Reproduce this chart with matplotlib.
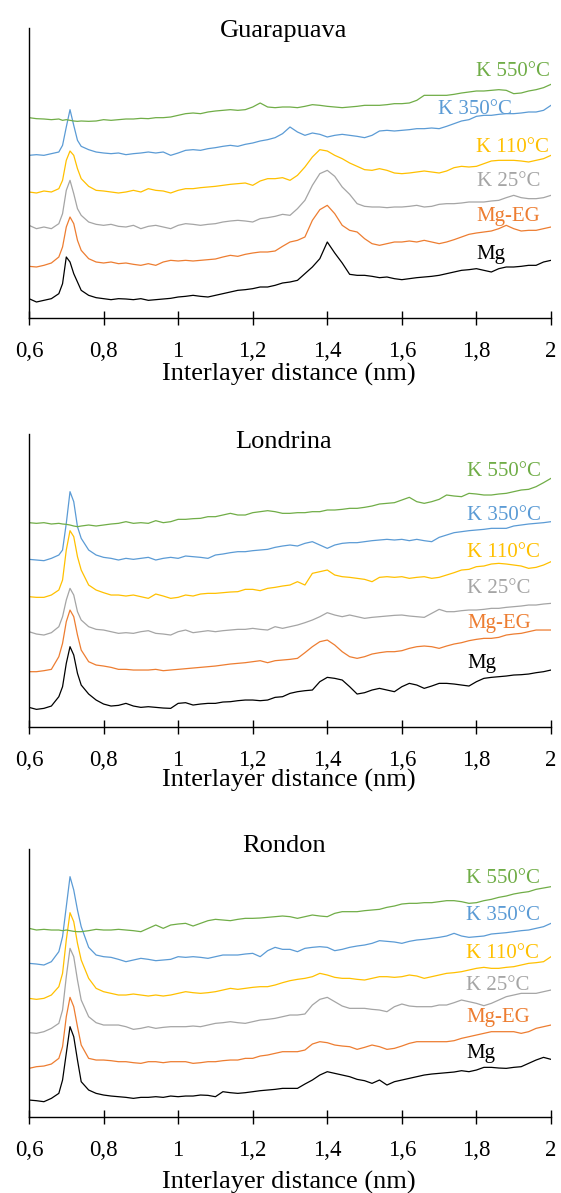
import matplotlib
matplotlib.use("Agg")
import matplotlib.pyplot as plt
from matplotlib.ticker import FixedLocator, FixedFormatter

plt.rcParams['font.family'] = ['Liberation Serif', 'DejaVu Serif']

# ---------------- data ----------------
d_nm = [0.60, 0.62, 0.64, 0.66, 0.68, 0.69, 0.70, 0.71, 0.72, 0.73, 0.74,
        0.76, 0.78, 0.80, 0.82, 0.84, 0.86, 0.88, 0.90, 0.92, 0.94, 0.96, 0.98,
        1.00, 1.02, 1.04, 1.06, 1.08, 1.10, 1.12, 1.14, 1.16, 1.18,
        1.20, 1.22, 1.24, 1.26, 1.28, 1.30, 1.32, 1.34, 1.36, 1.38,
        1.40, 1.42, 1.44, 1.46, 1.48, 1.50, 1.52, 1.54, 1.56, 1.58,
        1.60, 1.62, 1.64, 1.66, 1.68, 1.70, 1.72, 1.74, 1.76, 1.78,
        1.80, 1.82, 1.84, 1.86, 1.88, 1.90, 1.92, 1.94, 1.96, 1.98, 2.00]

series_names = ["Mg", "Mg-EG", "K 25°C", "K 110°C", "K 350°C", "K 550°C"]
panel_titles = ["Guarapuava", "Londrina", "Rondon"]
tick_values = [0.6, 0.8, 1.0, 1.2, 1.4, 1.6, 1.8, 2.0]
tick_labels = ["0,6", "0,8", "1", "1,2", "1,4", "1,6", "1,8", "2"]
x_label = "Interlayer distance (nm)"

# Guarapuava
guara_k550 = [601, 598, 597, 595, 597, 593, 595, 593, 591, 590, 591,
              590, 591, 595, 593, 595, 597, 597, 599, 598, 601, 601, 603,
              608, 613, 615, 613, 618, 621, 623, 625, 623, 625,
              633, 645, 633, 631, 633, 633, 631, 635, 640, 638,
              635, 633, 631, 633, 635, 638, 638, 638, 640, 643,
              643, 645, 653, 668, 668, 668, 668, 671, 675, 678,
              681, 681, 683, 685, 683, 673, 675, 681, 685, 691, 701]
guara_k350 = [488, 490, 488, 493, 498, 518, 573, 625, 578, 533, 515,
              505, 498, 495, 493, 495, 490, 493, 495, 498, 495, 498, 488,
              495, 503, 505, 503, 508, 511, 515, 518, 515, 521,
              525, 531, 535, 541, 553, 573, 558, 548, 555, 551,
              543, 548, 551, 548, 545, 541, 548, 561, 563, 561,
              563, 565, 568, 568, 570, 568, 575, 583, 591, 595,
              605, 608, 608, 611, 613, 613, 615, 618, 618, 623, 638]
guara_k110 = [378, 375, 381, 378, 388, 413, 473, 501, 488, 448, 418,
              395, 383, 381, 378, 375, 378, 383, 378, 388, 383, 381, 375,
              383, 388, 388, 391, 393, 395, 398, 401, 403, 405,
              398, 411, 418, 418, 421, 413, 428, 453, 483, 505,
              501, 488, 478, 465, 455, 445, 443, 448, 443, 435,
              433, 435, 438, 441, 438, 435, 441, 451, 455, 453,
              455, 463, 471, 473, 473, 473, 471, 468, 473, 478, 488]
guara_k25 = [278, 268, 273, 268, 283, 313, 383, 413, 373, 328, 308,
             288, 281, 278, 281, 275, 273, 278, 268, 275, 278, 273, 268,
             278, 283, 281, 278, 281, 283, 288, 291, 293, 291,
             288, 298, 301, 305, 311, 308, 328, 353, 398, 433,
             443, 425, 393, 371, 343, 335, 333, 333, 331, 333,
             333, 335, 338, 333, 335, 341, 343, 343, 345, 348,
             348, 348, 351, 353, 361, 368, 361, 358, 358, 361, 368]
guara_mgeg = [155, 153, 158, 165, 183, 213, 273, 303, 283, 233, 203,
              178, 168, 165, 168, 163, 165, 161, 158, 163, 158, 168, 173,
              171, 173, 171, 173, 175, 177, 183, 188, 185, 191,
              195, 198, 198, 201, 215, 228, 233, 243, 293, 325,
              338, 313, 278, 263, 258, 238, 223, 218, 223, 228,
              228, 231, 228, 233, 228, 223, 228, 235, 243, 251,
              255, 258, 261, 268, 278, 268, 261, 263, 263, 268, 273]
guara_mg = [58, 48, 53, 58, 73, 103, 183, 168, 133, 108, 83,
            68, 61, 58, 55, 58, 57, 55, 58, 53, 55, 57, 59,
            63, 65, 68, 65, 63, 68, 73, 78, 83, 85,
            88, 93, 93, 98, 105, 108, 113, 133, 153, 178,
            228, 195, 165, 131, 128, 128, 125, 121, 123, 118,
            115, 118, 121, 123, 125, 128, 133, 138, 143, 145,
            148, 143, 138, 148, 153, 153, 155, 158, 158, 168, 173]

# Londrina
lond_k550 = [612, 610, 612, 608, 610, 608, 607, 605, 602, 600, 602,
             605, 602, 605, 608, 610, 615, 610, 612, 610, 618, 612, 615,
             622, 622, 624, 625, 630, 630, 635, 640, 635, 635,
             642, 645, 648, 645, 640, 640, 642, 642, 645, 645,
             650, 650, 652, 655, 655, 658, 662, 668, 670, 672,
             680, 688, 675, 670, 675, 682, 695, 692, 690, 700,
             698, 695, 695, 698, 700, 705, 710, 712, 720, 732, 745]
lond_k350 = [502, 500, 498, 505, 515, 530, 610, 705, 675, 600, 565,
             530, 515, 508, 505, 500, 505, 502, 505, 508, 500, 505, 508,
             505, 512, 510, 508, 505, 515, 518, 522, 525, 525,
             528, 530, 532, 538, 542, 545, 542, 550, 555, 545,
             535, 545, 550, 552, 552, 555, 558, 560, 562, 560,
             562, 558, 562, 558, 555, 568, 575, 582, 585, 588,
             590, 592, 595, 595, 595, 602, 605, 608, 610, 612, 615]
lond_k110 = [390, 388, 388, 395, 410, 440, 530, 588, 570, 510, 470,
             425, 410, 402, 395, 395, 392, 395, 390, 385, 398, 392, 385,
             388, 395, 392, 398, 400, 400, 402, 404, 405, 412,
             412, 408, 415, 418, 422, 425, 435, 425, 460, 465,
             470, 455, 450, 448, 445, 442, 435, 448, 450, 448,
             450, 445, 448, 450, 445, 448, 455, 462, 470, 472,
             480, 482, 488, 490, 488, 485, 482, 475, 478, 485, 495]
lond_k25 = [285, 278, 275, 282, 300, 330, 380, 415, 395, 345, 320,
            300, 292, 290, 285, 280, 282, 280, 285, 288, 280, 278, 275,
            285, 290, 282, 285, 288, 285, 288, 290, 292, 292,
            295, 292, 290, 300, 295, 300, 305, 312, 320, 330,
            342, 335, 330, 335, 330, 325, 328, 330, 332, 334,
            335, 332, 330, 328, 340, 352, 345, 345, 348, 350,
            350, 352, 355, 355, 358, 360, 362, 365, 365, 368, 370]
lond_mgeg = [165, 165, 168, 172, 210, 250, 315, 350, 330, 275, 230,
             195, 185, 182, 178, 172, 172, 170, 170, 170, 172, 168, 170,
             172, 174, 176, 178, 180, 182, 185, 188, 190, 192,
             195, 198, 192, 198, 200, 202, 205, 222, 240, 255,
             260, 245, 225, 210, 205, 210, 218, 222, 225, 225,
             228, 235, 240, 242, 240, 235, 242, 248, 252, 258,
             262, 265, 265, 268, 275, 278, 280, 285, 290, 290, 290]
lond_mg = [58, 52, 55, 62, 90, 120, 190, 240, 215, 160, 125,
           98, 80, 68, 62, 64, 70, 62, 58, 60, 58, 56, 55,
           70, 72, 65, 68, 70, 70, 74, 75, 78, 80,
           80, 78, 80, 88, 90, 100, 105, 108, 110, 135,
           148, 145, 140, 120, 98, 102, 110, 115, 110, 105,
           120, 130, 125, 115, 122, 130, 130, 128, 125, 122,
           135, 145, 148, 150, 152, 155, 156, 158, 162, 165, 170]

# Rondon
rond_k550 = [565, 560, 562, 560, 560, 558, 560, 558, 556, 555, 555,
             558, 562, 560, 560, 562, 560, 558, 555, 565, 575, 565, 575,
             578, 580, 572, 580, 588, 592, 590, 588, 592, 595,
             595, 596, 598, 600, 602, 600, 595, 600, 605, 602,
             600, 610, 615, 615, 615, 618, 620, 622, 628, 632,
             638, 640, 640, 642, 642, 645, 648, 648, 645, 640,
             642, 648, 652, 658, 662, 668, 672, 675, 682, 686, 690]
rond_k350 = [460, 458, 455, 465, 495, 540, 630, 720, 680, 620, 570,
             508, 485, 480, 478, 472, 465, 470, 475, 472, 468, 470, 472,
             480, 478, 480, 478, 475, 480, 485, 485, 485, 488,
             490, 480, 498, 508, 502, 502, 495, 505, 508, 510,
             508, 498, 502, 508, 512, 515, 520, 528, 526, 524,
             520, 526, 530, 532, 535, 538, 542, 550, 542, 538,
             540, 542, 548, 550, 552, 555, 558, 560, 565, 570, 580]
rond_k110 = [355, 352, 355, 365, 390, 430, 530, 612, 585, 520, 470,
             415, 385, 375, 370, 365, 365, 368, 365, 362, 365, 362, 365,
             370, 375, 372, 370, 372, 375, 380, 385, 382, 385,
             388, 390, 390, 395, 402, 408, 412, 415, 420, 430,
             425, 418, 415, 415, 412, 410, 415, 420, 420, 418,
             420, 425, 422, 415, 420, 425, 430, 432, 435, 440,
             445, 448, 445, 445, 448, 450, 455, 460, 462, 465, 480]
rond_k25 = [252, 250, 255, 265, 280, 320, 420, 505, 480, 410, 350,
            300, 282, 275, 275, 275, 270, 262, 265, 270, 265, 268, 270,
            270, 270, 272, 270, 275, 280, 282, 285, 282, 280,
            285, 290, 292, 295, 300, 305, 305, 308, 335, 352,
            358, 345, 332, 325, 325, 325, 322, 320, 315, 330,
            338, 332, 330, 330, 330, 335, 335, 342, 350, 345,
            340, 333, 340, 350, 360, 365, 370, 370, 370, 375, 380]
rond_mgeg = [145, 150, 152, 158, 175, 210, 300, 358, 330, 270, 215,
             175, 170, 170, 168, 165, 165, 162, 160, 165, 165, 162, 165,
             165, 165, 160, 162, 165, 165, 168, 170, 170, 175,
             175, 182, 185, 190, 195, 195, 195, 200, 218, 225,
             222, 215, 212, 210, 202, 208, 215, 210, 202, 205,
             212, 220, 225, 225, 225, 225, 225, 228, 235, 240,
             245, 250, 255, 255, 255, 255, 250, 255, 265, 270, 275]
rond_mg = [50, 48, 45, 55, 70, 110, 190, 270, 240, 170, 105,
           80, 70, 65, 62, 60, 58, 55, 58, 58, 60, 58, 62,
           60, 62, 62, 65, 64, 60, 75, 72, 70, 72,
           75, 78, 80, 82, 85, 85, 85, 98, 110, 125,
           135, 130, 125, 120, 112, 108, 100, 110, 95, 105,
           110, 115, 120, 125, 128, 130, 132, 134, 138, 135,
           140, 148, 148, 146, 145, 148, 150, 160, 170, 178, 172]

# ---------------- style / layout ----------------
colors = ["#000000", "#ED7D31", "#A5A5A5", "#FFC000", "#5B9BD5", "#70AD47"]
W, H = 561, 1193
fig = plt.figure(figsize=(W / 100, H / 100), dpi=100)

panels = [
    dict(series=[guara_mg, guara_mgeg, guara_k25, guara_k110, guara_k350, guara_k550],
         top=28, bottom=318, ymax=870, title_base=37.5, xlabel_base=381,
         lab_x=[1.799, 1.799, 1.801, 1.799, 1.697, 1.799],
         lab_y=[192, 303, 408, 513, 624, 738]),
    dict(series=[lond_mg, lond_mgeg, lond_k25, lond_k110, lond_k350, lond_k550],
         top=434, bottom=726.7, ymax=878, title_base=448, xlabel_base=787,
         lab_x=[1.775] * 6,
         lab_y=[191, 311, 416, 524, 635, 767]),
    dict(series=[rond_mg, rond_mgeg, rond_k25, rond_k110, rond_k350, rond_k550],
         top=849, bottom=1116.7, ymax=803, title_base=852.5, xlabel_base=1189,
         lab_x=[1.772] * 6,
         lab_y=[191, 299, 395, 491, 605, 716]),
]

left_px, right_px = 29, 551
for i, p in enumerate(panels):
    ax = fig.add_axes([left_px / W, 1 - p["bottom"] / H,
                       (right_px - left_px) / W, (p["bottom"] - p["top"]) / H])
    for ys, c in zip(p["series"], colors):
        ax.plot(d_nm, ys, color=c, lw=0.9)
    for name, c, lx, ly in zip(series_names, colors, p["lab_x"], p["lab_y"]):
        ax.text(lx, ly, name, color=c, fontsize=15, ha="left", va="center")
    ax.set_xlim(0.6, 2.0)
    ax.set_ylim(0, p["ymax"])
    ax.xaxis.set_major_locator(FixedLocator(tick_values))
    ax.xaxis.set_major_formatter(FixedFormatter(tick_labels))
    ax.tick_params(axis="x", direction="inout", length=10, width=1.0,
                   labelsize=16.5, pad=11.5)
    ax.set_yticks([])
    for s in ["top", "right"]:
        ax.spines[s].set_visible(False)
    ax.spines["left"].set_linewidth(1.0)
    ax.spines["bottom"].set_linewidth(1.0)
    fig.text(284 / W, 1 - p["title_base"] / H, panel_titles[i], fontsize=19,
             ha="center", va="baseline")
    fig.text(289 / W, 1 - p["xlabel_base"] / H, x_label, fontsize=19,
             ha="center", va="baseline")

fig.savefig("out.png", dpi=100)
